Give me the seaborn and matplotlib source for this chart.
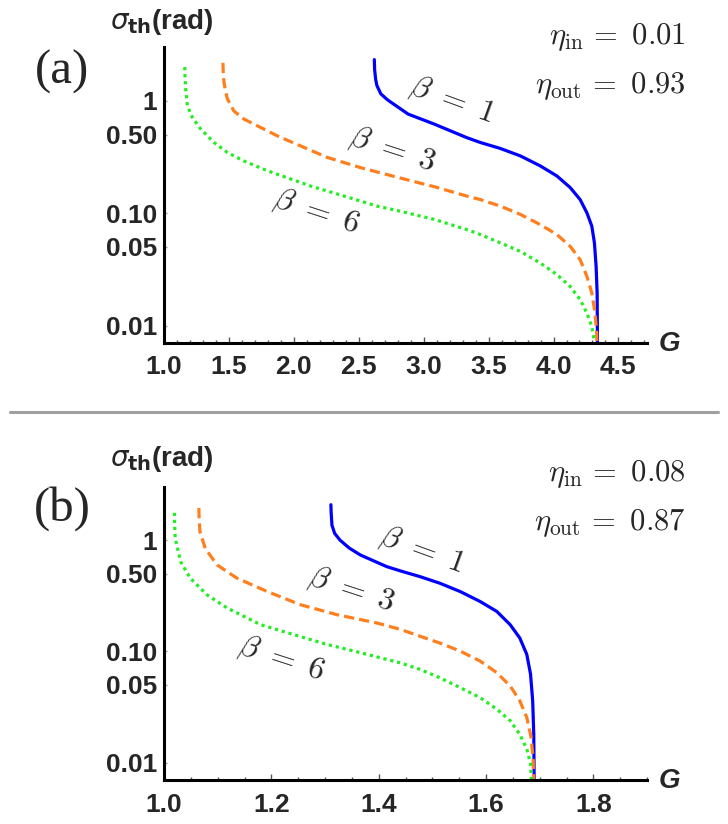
import matplotlib
matplotlib.use("Agg")
import matplotlib.pyplot as plt
import seaborn as sns
from matplotlib.ticker import MultipleLocator, NullLocator, FixedLocator
from matplotlib.lines import Line2D

# panel (a): eta_in = 0.01, eta_out = 0.93
aG1 = [2.62, 2.622, 2.63, 2.64, 2.67, 2.72, 2.77, 2.88, 3.08, 3.33, 3.436, 3.59, 3.744, 3.898, 4.026,
       4.128, 4.205, 4.257, 4.295, 4.315, 4.328, 4.336, 4.338, 4.339]
aS1 = [2.32, 1.9, 1.55, 1.36, 1.15, 1.02, 0.93, 0.76, 0.62, 0.47, 0.425, 0.376, 0.323, 0.263, 0.214,
       0.169, 0.132, 0.1007, 0.0766, 0.0544, 0.0337, 0.0195, 0.0085, 0.005]
aG3 = [1.454, 1.456, 1.462, 1.475, 1.488, 1.538, 1.615, 1.744, 1.872, 2.0, 2.257, 2.513, 2.82, 3.08,
       3.33, 3.436, 3.59, 3.744, 3.898, 4.026, 4.128, 4.205, 4.257, 4.295, 4.32, 4.333, 4.336]
aS3 = [2.17, 1.8, 1.46, 1.2, 1.04, 0.81, 0.687, 0.578, 0.487, 0.42, 0.313, 0.254, 0.205, 0.172,
       0.142, 0.132, 0.1155, 0.0975, 0.079, 0.0645, 0.0507, 0.0386, 0.0274, 0.0195, 0.0129, 0.0085, 0.005]
aG6 = [1.16, 1.162, 1.167, 1.18, 1.218, 1.282, 1.385, 1.488, 1.615, 1.77, 1.87, 2.13, 2.385, 2.64,
       2.82, 3.08, 3.33, 3.436, 3.59, 3.744, 3.898, 4.026, 4.128, 4.205, 4.257, 4.295, 4.318, 4.325]
aS6 = [1.99, 1.6, 1.27, 0.90, 0.71, 0.56, 0.425, 0.346, 0.291, 0.245, 0.222, 0.174, 0.142, 0.1155,
       0.104, 0.088, 0.0715, 0.0645, 0.0544, 0.0457, 0.036, 0.0284, 0.0223, 0.017, 0.0129, 0.0098, 0.0068, 0.005]

# panel (b): eta_in = 0.08, eta_out = 0.87
bG1 = [1.311, 1.3115, 1.313, 1.318, 1.328, 1.345, 1.366, 1.415, 1.44, 1.477, 1.514, 1.552, 1.589,
       1.62, 1.645, 1.663, 1.676, 1.683, 1.687, 1.689, 1.690]
bS1 = [2.08, 1.75, 1.36, 1.15, 1.0, 0.85, 0.735, 0.578, 0.53, 0.47, 0.41, 0.345, 0.281,
       0.229, 0.174, 0.132, 0.094, 0.0624, 0.036, 0.018, 0.005]
bG3 = [1.065, 1.0655, 1.067, 1.077, 1.099, 1.136, 1.192, 1.254, 1.322, 1.397, 1.44, 1.477, 1.514,
       1.552, 1.589, 1.62, 1.645, 1.663, 1.676, 1.684, 1.688, 1.6895]
bS3 = [1.94, 1.5, 1.19, 0.84, 0.598, 0.455, 0.346, 0.263, 0.214, 0.18, 0.158, 0.137, 0.119,
       0.1006, 0.082, 0.0645, 0.049, 0.036, 0.0255, 0.017, 0.0105, 0.005]
bG6 = [1.0195, 1.0198, 1.021, 1.031, 1.049, 1.080, 1.118, 1.18, 1.241, 1.304, 1.366, 1.44, 1.477,
       1.514, 1.552, 1.589, 1.62, 1.645, 1.663, 1.676, 1.683, 1.686]
bS6 = [1.76, 1.35, 1.03, 0.64, 0.455, 0.323, 0.245, 0.174, 0.142, 0.1155, 0.0975, 0.079, 0.069,
       0.058, 0.0473, 0.0385, 0.0303, 0.0239, 0.018, 0.0133, 0.0098, 0.005]

yTicks = [0.01, 0.05, 0.1, 0.5, 1]
yTickLabels = ["0.01", "0.05", "0.10", "0.50", "1"]
aXTicks = [1.0, 1.5, 2.0, 2.5, 3.0, 3.5, 4.0, 4.5]
bXTicks = [1.0, 1.2, 1.4, 1.6, 1.8]
etaA = ["0.01", "0.93"]
etaB = ["0.08", "0.87"]

sns.set_style("white")
plt.rcParams['font.family'] = ['Liberation Sans', 'DejaVu Sans']

W, H = 728, 824
fig = plt.figure(figsize=(W / 100, H / 100), dpi=100)


def px(x, y):
    return x / W, 1 - y / H


def makeAxes(top, bottom):
    ax = fig.add_axes([164 / W, 1 - bottom / H, (647 - 164) / W, (bottom - top) / H])
    ax.set_yscale("log")
    ax.set_ylim(10 ** -2.155, 10 ** 0.48)
    for s in ["top", "right"]:
        ax.spines[s].set_visible(False)
    for s in ["left", "bottom"]:
        ax.spines[s].set_color("black")
        ax.spines[s].set_linewidth(2.2)
    ax.yaxis.set_major_locator(FixedLocator(yTicks))
    ax.yaxis.set_minor_locator(NullLocator())
    ax.tick_params(axis="y", which="major", left=True, direction="in", length=2.5, width=1,
                   color="#999999", pad=5, labelsize=19)
    ax.tick_params(axis="x", which="both", bottom=True, direction="in", color="#555555", width=1)
    ax.tick_params(axis="x", which="major", length=4, pad=9, labelsize=19)
    ax.tick_params(axis="x", which="minor", length=2.5)
    return ax


def drawCurves(ax, G1, S1, G3, S3, G6, S6):
    sns.lineplot(x=G1, y=S1, ax=ax, sort=False, estimator=None, color="#0000ff", lw=2.3)
    sns.lineplot(x=G3, y=S3, ax=ax, sort=False, estimator=None, color="#ff7f1e", lw=2.3,
                 linestyle=(0, (3.2, 1.6)))
    sns.lineplot(x=G6, y=S6, ax=ax, sort=False, estimator=None, color="#22ee22", lw=2.3,
                 linestyle=(0, (1, 1.2)))
    ax.set_xlabel("")
    ax.set_ylabel("")


# ---- panel (a)
axA = makeAxes(46.7, 343)
drawCurves(axA, aG1, aS1, aG3, aS3, aG6, aS6)
axA.set_xlim(1.0, 4.72)
axA.set_xticks(aXTicks)
axA.set_xticklabels([f"{t:.1f}" for t in aXTicks], fontweight="bold")
axA.set_yticklabels(yTickLabels, fontweight="bold")
axA.xaxis.set_minor_locator(MultipleLocator(0.1))

# ---- panel (b)
axB = makeAxes(486.7, 780)
drawCurves(axB, bG1, bS1, bG3, bS3, bG6, bS6)
axB.set_xlim(1.0, 1.90)
axB.set_xticks(bXTicks)
axB.set_xticklabels([f"{t:.1f}" for t in bXTicks], fontweight="bold")
axB.set_yticklabels(yTickLabels, fontweight="bold")
axB.xaxis.set_minor_locator(MultipleLocator(0.05))

# ---- annotations
for off, tag, eta in [(0, "(a)", etaA), (437, "(b)", etaB)]:
    fig.text(*px(62, 72 + off), tag, family="Liberation Serif", fontsize=35, ha="center", va="center")
    fig.text(*px(110, 22 + off), r"$\sigma_{\mathbf{th}}$(rad)", fontsize=20, fontweight="bold",
             ha="left", va="center", math_fontfamily="dejavusans")
    fig.text(*px(669, 344 + off), "G", fontsize=20, fontweight="bold", style="italic",
             ha="center", va="center")
    fig.text(*px(686, 39 + off + 5), r"$\eta_{\rm in}\,=\,\,$" + r"$" + eta[0] + "$", fontsize=22,
             ha="right", va="baseline", math_fontfamily="cm")
    fig.text(*px(686, 88 + off + 5), r"$\eta_{\rm out}\,=\,\,$" + r"$" + eta[1] + "$", fontsize=22,
             ha="right", va="baseline", math_fontfamily="cm")

betaLabels = [("1", 452, 100, -20), ("3", 392, 150, -18), ("6", 316, 212, -18),
              ("1", 422, 550, -20), ("3", 351, 590, -18), ("6", 281, 659, -18)]
for b, x, y, rot in betaLabels:
    fig.text(*px(x, y), r"$\beta\ =\ " + b + "$", fontsize=23, rotation=rot, ha="center", va="center",
             math_fontfamily="cm", rotation_mode="anchor")

fig.add_artist(Line2D([10 / W, 718 / W], [0.5, 0.5], color="#a0a0a0", lw=2.2))

fig.savefig("out.png", dpi=100)
